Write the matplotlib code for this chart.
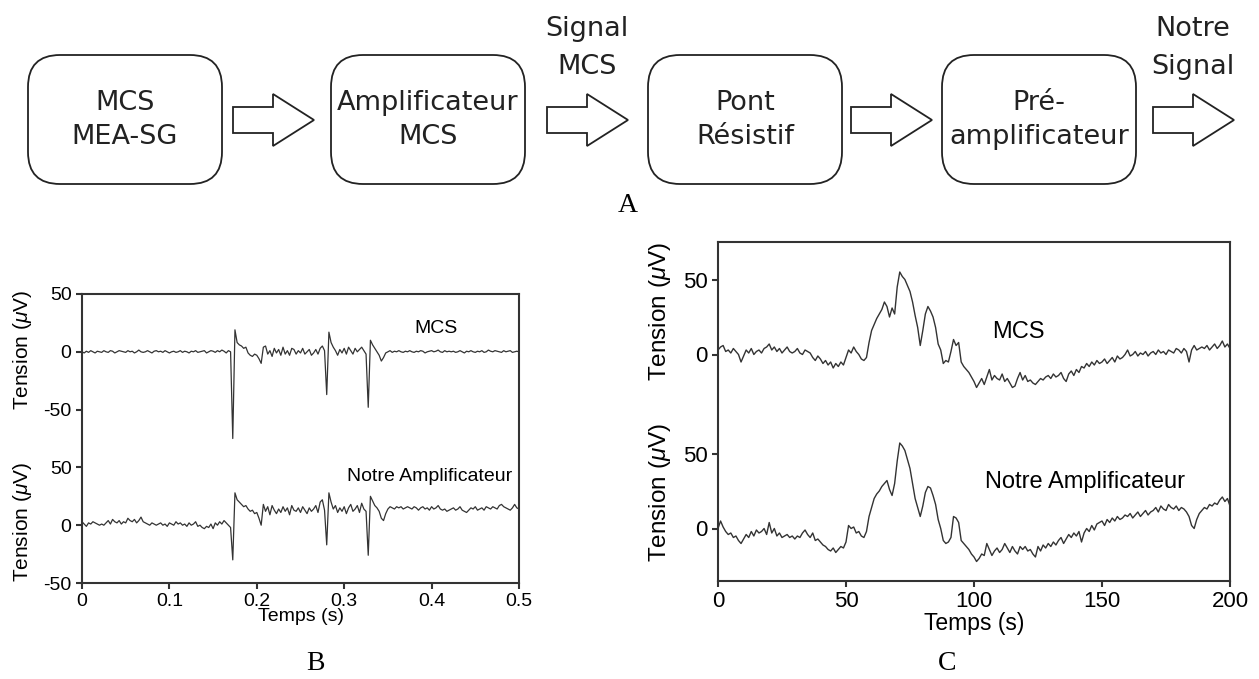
import numpy as np
import matplotlib.pyplot as plt
from matplotlib.patches import FancyBboxPatch, Polygon

plt.rcParams['font.family'] = ['Liberation Sans', 'DejaVu Sans']
plt.rcParams['mathtext.fontset'] = 'custom'
plt.rcParams['mathtext.it'] = 'Liberation Sans:italic'
plt.rcParams['mathtext.rm'] = 'Liberation Sans'

# --- block diagram (A) ---
box_labels = ["MCS\nMEA-SG", "Amplificateur\nMCS", "Pont\nRésistif", "Pré-\namplificateur"]
arrow_labels = ["", "Signal\nMCS", "", "Notre\nSignal"]

# --- panel B: 0.0025 s sampling, 0 .. 0.5 s ---
t_b = np.linspace(0, 0.5, 201)
mcs_b = [0, -1, 0.5, -0.5, 1, 0, -1, 0.5, 0, -0.5,
         1, 0, -0.5, 1, 0.5, -1, 0, 1, 0.5, 0,
         -0.5, 1, 0, 0.5, -1, 0, 1.5, 0, -0.5, 0,
         1, 0, -1, 0.5, 1, 0, 0.5, -0.5, 1, 0,
         -1, 0, 0.5, -0.5, 0, 1, -0.5, 0.5, 0, -1,
         0.5, 0, 1, -0.5, 0, 0.5, 1, -1, 0, 1,
         0.5, -0.5, 1, 0, 1.5, 0.5, -1, 1, 0, -75,
         19, 8, 6, 5, 3, 4, -1, -3, -4, -2,
         -3, -6, -10, 4, 5, -2, 1, -4, 3, -1,
         2, -3, 4, -2, 1, -3, 3, 2, -2, 1,
         -1, 3, -2, 0, 2, -3, -1, 2, -2, 3,
         5, 1, -37, 17, 8, 4, 1, -3, 2, -1,
         3, -2, 4, 1, -2, 3, 0, 2, 4, 1,
         -2, -48, 10, 6, 3, 0, -3, -8, -5, -1,
         0, 1, -0.5, 0.5, 0, 1, 0, -0.5, 0.5, 0,
         1, 0, -0.5, 0.5, 0, 1, 0.5, -1, 0, 0.5,
         1, 0, 0.5, 1.5, 0, -0.5, 1, 0, 0.5, 0,
         0.5, -0.5, 0, 1, 0, -1, 0.5, 0, 1, 0,
         -0.5, 0.5, 0, 1, -0.5, 0, 1.5, 0.5, 0, 1,
         0.5, 0, -0.5, 1, 0, 0.5, 1, -0.5, 0, 0.5,
         0]
notre_b = [3, 1, -1, 2, 1, 3, 2, 1, 0, 1,
           0, 2, 4, 1, 5, 3, 2, 4, 1, 3,
           2, 6, 4, 3, 5, 2, 4, 7, 3, 2,
           1, 0, 2, 1, 0, 1, 2, 0, 1, -1,
           2, 1, 0, 3, 1, 2, 0, 1, -1, 2,
           0, 1, 3, -1, 0, -2, -3, -1, -2, 1,
           -3, 2, 0, 3, 1, 4, 2, 0, -2, -30,
           28, 22, 20, 18, 16, 17, 14, 12, 13, 10,
           11, 6, 0, 18, 12, 16, 9, 17, 13, 10,
           14, 11, 16, 12, 15, 9, 17, 13, 12, 15,
           11, 16, 13, 10, 15, 12, 14, 17, 11, 20,
           22, 13, -17, 28, 20, 14, 17, 11, 15, 12,
           16, 10, 15, 18, 12, 14, 17, 11, 19, 14,
           12, -26, 25, 21, 17, 15, 12, 6, 4, 10,
           14, 16, 15, 14, 16, 15, 16, 14, 15, 16,
           15, 14, 16, 15, 13, 15, 16, 14, 15, 13,
           16, 14, 15, 17, 14, 13, 14, 12, 13, 14,
           15, 13, 14, 16, 13, 12, 11, 13, 15, 14,
           16, 13, 14, 15, 13, 16, 15, 14, 16, 15,
           14, 17, 18, 16, 15, 14, 13, 15, 18, 15,
           14]
offset_b = 150
yticks_b = [-50, 0, 50, 100, 150, 200]
ylabels_b = ['-50', '0', '50', '-50', '0', '50']

# --- panel C: 1 s sampling, 0 .. 200 s ---
t_c = np.arange(0, 201)
mcs_c = [3, 5, 6, 2, 3, 1, 4, 2, 0, -5,
         -1, 3, 1, 4, 0, 2, 3, 1, 4, 5,
         7, 3, 5, 2, 4, 1, 3, 5, 2, 1,
         2, 4, 1, 0, 3, 2, 1, -2, -4, -1,
         -3, -6, -4, -7, -5, -9, -6, -8, -5, -7,
         -2, 3, 1, 5, 2, 0, -3, -4, -2, 8,
         16, 20, 24, 27, 30, 35, 32, 25, 31, 27,
         45, 55, 52, 50, 46, 42, 35, 26, 18, 6,
         16, 27, 32, 29, 25, 18, 7, 3, -6, -4,
         -5, 2, 10, 6, 8, -5, -8, -10, -12, -15,
         -18, -22, -19, -16, -20, -15, -10, -17, -14, -16,
         -17, -13, -18, -16, -19, -22, -21, -16, -12, -17,
         -14, -18, -17, -19, -20, -18, -16, -17, -15, -14,
         -16, -13, -15, -14, -12, -16, -18, -13, -11, -14,
         -10, -12, -8, -9, -6, -8, -5, -7, -4, -6,
         -5, -3, -6, -4, -2, -5, -1, -3, -2, 0,
         3, -1, 0, 2, -1, 1, 0, 2, -1, 1,
         2, 0, 3, 1, 2, 0, 3, 2, 1, 4,
         3, 1, 4, 2, -5, 3, 6, 3, 4, 5,
         4, 6, 3, 5, 7, 4, 6, 9, 5, 7,
         4]
notre_c = [0, 5, 1, -2, -4, -3, -6, -5, -8, -10,
           -7, -4, -6, -2, -5, -1, -3, -2, 0, -4,
           4, -3, 0, -5, -3, -6, -5, -4, -6, -5,
           -7, -5, -6, -3, -1, -4, -6, -3, -8, -7,
           -9, -11, -12, -14, -15, -13, -16, -14, -12, -13,
           -9, 2, 0, 1, -3, -2, -5, -6, -2, 8,
           14, 20, 23, 25, 28, 30, 32, 26, 22, 30,
           45, 57, 55, 52, 46, 40, 30, 20, 14, 8,
           15, 24, 28, 27, 22, 16, 6, 0, -8, -10,
           -9, -6, 8, 7, 4, -8, -10, -12, -14, -17,
           -19, -22, -20, -17, -18, -10, -14, -18, -15, -13,
           -16, -14, -10, -13, -16, -12, -15, -17, -12, -14,
           -12, -15, -14, -17, -19, -12, -15, -11, -13, -10,
           -12, -9, -11, -8, -6, -10, -7, -4, -6, -3,
           -5, -2, -9, -3, 0, -2, 2, -1, 3, 4,
           5, 2, 6, 4, 7, 5, 8, 6, 7, 9,
           8, 10, 7, 9, 11, 8, 10, 12, 9, 11,
           12, 14, 11, 15, 13, 12, 16, 14, 13, 15,
           12, 14, 13, 11, 8, 2, 0, 6, 10, 12,
           14, 13, 16, 15, 17, 16, 19, 21, 18, 20,
           15]
offset_c = 116
yticks_c = [0, 50, 116, 166]
ylabels_c = ['0', '50', '0', '50']

W, H = 1259, 679
line_col = '#333333'
fig = plt.figure(figsize=(12.59, 6.79), dpi=100)

# diagram drawn in pixel coordinates
ax0 = fig.add_axes([0, 0, 1, 1])
ax0.set_xlim(0, W)
ax0.set_ylim(H, 0)
ax0.axis('off')

box_x = [28, 331, 648, 942]
box_w = 194
arrow_x = [233, 547, 851, 1153]
cy = 120
for bx, lab in zip(box_x, box_labels):
    ax0.add_patch(FancyBboxPatch((bx, 55), box_w, 129,
                                 boxstyle="round,pad=0,rounding_size=32",
                                 fc='white', ec='#222222', lw=1.3))
    ax0.text(bx + box_w / 2, cy, lab, ha='center', va='center',
             fontsize=19.5, family='DejaVu Sans', color='#222222',
             linespacing=1.45)
for axx, lab in zip(arrow_x, arrow_labels):
    pts = [(axx, cy - 13), (axx + 40, cy - 13), (axx + 40, cy - 26),
           (axx + 81, cy), (axx + 40, cy + 26), (axx + 40, cy + 13),
           (axx, cy + 13)]
    ax0.add_patch(Polygon(pts, closed=True, fc='white', ec='#222222', lw=1.3))
    if lab:
        ax0.text(axx + 40, 48, lab, ha='center', va='center',
                 fontsize=19.5, family='DejaVu Sans', color='#222222',
                 linespacing=1.55)

ax0.text(628, 205, 'A', ha='center', va='center', fontsize=20,
         family='Liberation Serif')
ax0.text(315, 663, 'B', ha='center', va='center', fontsize=20,
         family='Liberation Serif')
ax0.text(947, 663, 'C', ha='center', va='center', fontsize=20,
         family='Liberation Serif')


def style_axes(ax, lw):
    for s in ax.spines.values():
        s.set_color(line_col)
        s.set_linewidth(lw)
    ax.tick_params(direction='out', color=line_col, width=lw, length=4)


# panel B
axb = fig.add_axes([82 / W, 1 - 583 / H, 437 / W, 289 / H])
axb.plot(t_b, np.array(mcs_b) + offset_b, color=line_col, lw=0.9)
axb.plot(t_b, notre_b, color=line_col, lw=0.9)
axb.set_xlim(0, 0.5)
axb.set_ylim(-50, 200)
axb.set_xticks([0, 0.1, 0.2, 0.3, 0.4, 0.5])
axb.set_xticklabels(['0', '0.1', '0.2', '0.3', '0.4', '0.5'])
axb.set_yticks(yticks_b)
axb.set_yticklabels(ylabels_b)
axb.tick_params(labelsize=14)
style_axes(axb, 1.5)
axb.set_xlabel('Temps (s)', fontsize=14, labelpad=-2)
axb.text(0.405, 170, 'MCS', ha='center', va='center', fontsize=14)
axb.text(0.398, 42, 'Notre Amplificateur', ha='center', va='center',
         fontsize=14)
fig.text(22 / W, 1 - 350 / H, r'Tension ($\mu$V)', rotation=90,
         ha='center', va='center', fontsize=15)
fig.text(22 / W, 1 - 522 / H, r'Tension ($\mu$V)', rotation=90,
         ha='center', va='center', fontsize=15)

# panel C
axc = fig.add_axes([718 / W, 1 - 581 / H, 512 / W, 339 / H])
axc.plot(t_c, np.array(mcs_c) + offset_c, color=line_col, lw=1.0)
axc.plot(t_c, notre_c, color=line_col, lw=1.0)
axc.set_xlim(0, 200)
axc.set_ylim(-35, 191)
axc.set_xticks([0, 50, 100, 150, 200])
axc.set_yticks(yticks_c)
axc.set_yticklabels(ylabels_c)
axc.tick_params(labelsize=16)
style_axes(axc, 1.5)
axc.set_xlabel('Temps (s)', fontsize=16.5, labelpad=0)
axc.text(117.5, 131, 'MCS', ha='center', va='center', fontsize=17)
axc.text(143.5, 31, 'Notre Amplificateur', ha='center', va='center',
         fontsize=17)
fig.text(660 / W, 1 - 311 / H, r'Tension ($\mu$V)', rotation=90,
         ha='center', va='center', fontsize=17.5)
fig.text(660 / W, 1 - 492 / H, r'Tension ($\mu$V)', rotation=90,
         ha='center', va='center', fontsize=17.5)

fig.savefig('out.png', dpi=100)
